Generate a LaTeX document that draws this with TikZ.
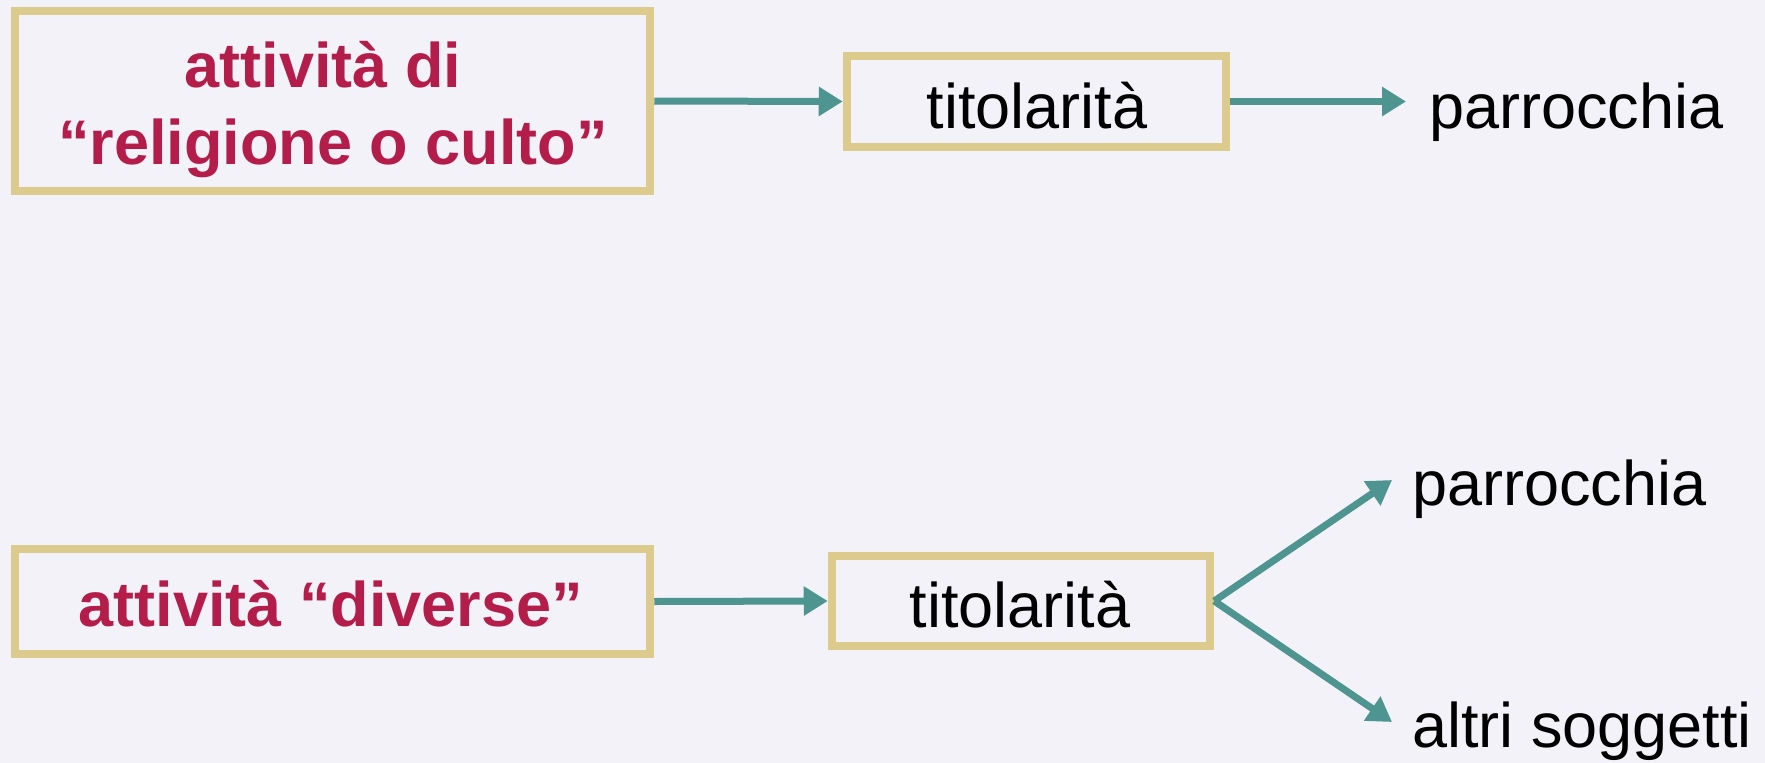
\documentclass[tikz,border=0pt]{standalone}
\usepackage{fontspec}
\setmainfont{Liberation Sans}
\usetikzlibrary{arrows.meta}
\definecolor{bgcol}{RGB}{242,242,248}
\definecolor{boxgold}{RGB}{221,203,141}
\definecolor{redtxt}{RGB}{180,28,74}
\definecolor{teal}{RGB}{78,148,144}
\tikzset{
  boxnode/.style={draw=boxgold, line width=8.5pt, inner sep=0pt, fill=none},
  redlabel/.style={anchor=base, inner sep=0pt, text=redtxt, font=\fontsize{63}{75}\selectfont\bfseries},
  blacklabel/.style={inner sep=0pt, text=black, font=\fontsize{63}{75}\selectfont},
  conn/.style={draw=teal, line width=7pt, -{Triangle[length=24pt,width=28pt]}}
}
\begin{document}
\begin{tikzpicture}[x=1pt,y=-1pt]
\fill[bgcol] (0,0) rectangle (1765,763);
\useasboundingbox (0,0) rectangle (1765,763);
% boxes
\node[boxnode, minimum width=635pt, minimum height=180pt] (b1) at (332.5,101) {};
\node[boxnode, minimum width=379pt, minimum height=91pt] (t1) at (1036.5,101.5) {};
\node[boxnode, minimum width=635pt, minimum height=105pt] (b2) at (332.5,601.5) {};
\node[boxnode, minimum width=378pt, minimum height=90pt] (t2) at (1021,601) {};
% texts
\node[redlabel] (b1a) at (323,87) {attività di};
\node[redlabel] (b1b) at (333,164) {“religione o culto”};
\node[redlabel] (b2a) at (331,626) {attività “diverse”};
\node[blacklabel, anchor=base] (t1l) at (1037,128) {titolarità};
\node[blacklabel, anchor=base] (t2l) at (1020,627) {titolarità};
\node[blacklabel, anchor=base west] (p1) at (1429,128) {parrocchia};
\node[blacklabel, anchor=base west] (p2) at (1412,505) {parrocchia};
\node[blacklabel, anchor=base west] (a2) at (1412,747) {altri soggetti};
% connector end points
\coordinate (e1) at (1406,101.5);
\coordinate (e2) at (1392,480);
\coordinate (e3) at (1392,722);
% connectors
\draw[conn] (b1.east) -- (t1.west);
\draw[conn] (t1.east) -- (e1);
\draw[conn] (b2.east) -- (t2.west);
\draw[conn] (t2.east) -- (e2);
\draw[conn] (t2.east) -- (e3);
\end{tikzpicture}
\end{document}
